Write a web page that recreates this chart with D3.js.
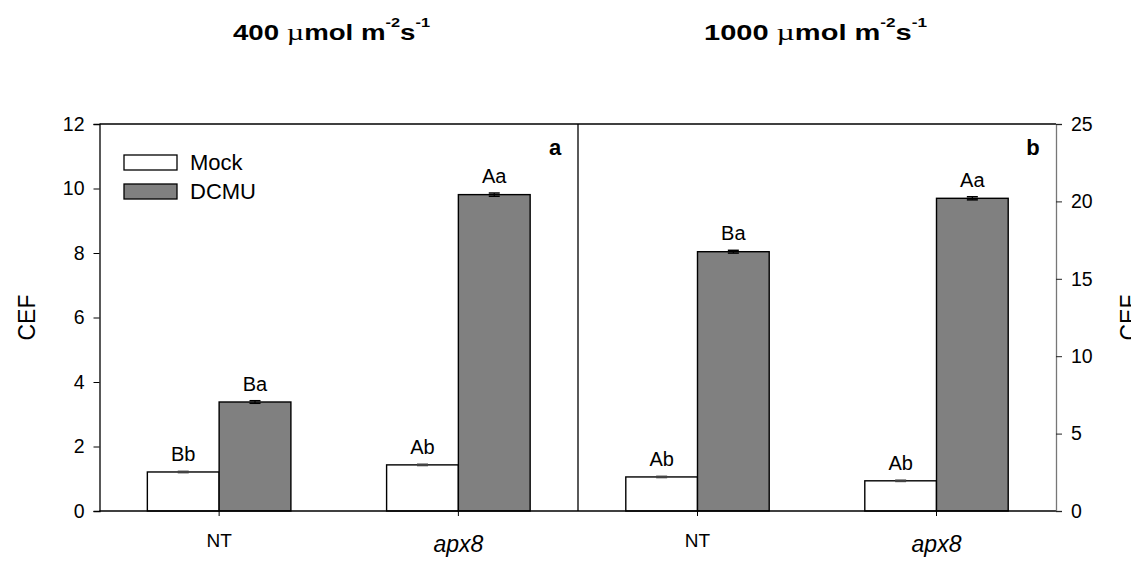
<!DOCTYPE html>
<html>
<head>
<meta charset="utf-8">
<script src="https://cdn.jsdelivr.net/npm/d3@7"></script>
<style>
  html, body { margin: 0; padding: 0; background: #fff; }
  svg { display: block; }
  text { font-family: Arial, "Liberation Sans", sans-serif; fill: #000; }
</style>
</head>
<body>
<svg id="chart" width="1131" height="575"></svg>
<script>
// Genotypes on the x axis and the two treatments within each group
const groups = ["NT", "apx8"];
const treatments = ["Mock", "DCMU"];

// CEF values at 400 µmol m-2 s-1 (panel a)
const mock400 = [1.21, 1.43];
const dcmu400 = [3.38, 9.81];
const mock400Err = [0.02, 0.02];
const dcmu400Err = [0.04, 0.05];
const mock400Letters = ["Bb", "Ab"];
const dcmu400Letters = ["Ba", "Aa"];

// CEF values at 1000 µmol m-2 s-1 (panel b)
const mock1000 = [2.2, 1.95];
const dcmu1000 = [16.75, 20.2];
const mock1000Err = [0.04, 0.04];
const dcmu1000Err = [0.09, 0.1];
const mock1000Letters = ["Ab", "Ab"];
const dcmu1000Letters = ["Ba", "Aa"];

// Axis ticks
const leftTicks = [0, 2, 4, 6, 8, 10, 12];
const rightTicks = [0, 5, 10, 15, 20, 25];

const svg = d3.select("#chart");
const font = 'Arial, "Liberation Sans", sans-serif';

const plotTop = 124, plotBottom = 511;
const xLeft = 99.5, xMid = 578, xRight = 1056;
const barFill = "#808080";

const yLeft = d3.scaleLinear().domain([0, 12]).range([plotBottom, plotTop]);
const yRight = d3.scaleLinear().domain([0, 25]).range([plotBottom, plotTop]);

const panels = [
  { x0: xLeft, x1: xMid, y: yLeft, mock: mock400, dcmu: dcmu400,
    mockErr: mock400Err, dcmuErr: dcmu400Err,
    mockLab: mock400Letters, dcmuLab: dcmu400Letters, tag: "a" },
  { x0: xMid, x1: xRight, y: yRight, mock: mock1000, dcmu: dcmu1000,
    mockErr: mock1000Err, dcmuErr: dcmu1000Err,
    mockLab: mock1000Letters, dcmuLab: dcmu1000Letters, tag: "b" }
];

panels.forEach(p => {
  const xg = d3.scaleBand().domain(groups).range([p.x0, p.x1])
    .paddingInner(0.4).paddingOuter(0.2);
  const xs = d3.scaleBand().domain(treatments).range([0, xg.bandwidth()]).padding(0);

  const rows = [];
  groups.forEach((g, i) => {
    rows.push({ g, t: "Mock", v: p.mock[i], e: p.mockErr[i], lab: p.mockLab[i] });
    rows.push({ g, t: "DCMU", v: p.dcmu[i], e: p.dcmuErr[i], lab: p.dcmuLab[i] });
  });

  const gBars = svg.append("g");
  gBars.selectAll("rect").data(rows).join("rect")
    .attr("x", d => xg(d.g) + xs(d.t))
    .attr("y", d => p.y(d.v))
    .attr("width", xs.bandwidth())
    .attr("height", d => p.y(0) - p.y(d.v))
    .attr("fill", d => d.t === "Mock" ? "#fff" : barFill)
    .attr("stroke", "#000")
    .attr("stroke-width", 1.4);

  // error bars
  const cx = d => xg(d.g) + xs(d.t) + xs.bandwidth() / 2;
  const gErr = svg.append("g");
  rows.forEach(d => {
    const c = cx(d);
    const col = d.t === "Mock" ? "#444" : "#000";
    gErr.append("line").attr("x1", c).attr("x2", c)
      .attr("y1", p.y(d.v - d.e)).attr("y2", p.y(d.v + d.e))
      .attr("stroke", col).attr("stroke-width", 1.2);
    [d.v - d.e, d.v + d.e].forEach(v => {
      gErr.append("line").attr("x1", c - 5.5).attr("x2", c + 5.5)
        .attr("y1", p.y(v)).attr("y2", p.y(v))
        .attr("stroke", col).attr("stroke-width", 1.5);
    });
  });

  // significance letters
  svg.append("g").selectAll("text").data(rows).join("text")
    .attr("x", cx)
    .attr("y", d => p.y(d.v + d.e) - 10)
    .attr("text-anchor", "middle")
    .attr("font-size", 20)
    .text(d => d.lab);

  // x axis ticks and labels
  const ax = d3.axisBottom(xg).tickSize(5);
  const gAx = svg.append("g").attr("transform", `translate(0,${plotBottom})`).call(ax);
  gAx.select(".domain").remove();
  gAx.selectAll(".tick line").attr("stroke", "#000").attr("stroke-width", 1);
  gAx.selectAll(".tick text")
    .attr("font-family", font)
    .attr("dy", null)
    .attr("y", d => d === "apx8" ? 40.5 : 35.7)
    .attr("font-size", d => d === "apx8" ? 23 : 19)
    .attr("font-style", d => d === "apx8" ? "italic" : "normal")
    .attr("fill", "#000");

  // panel tag
  svg.append("text")
    .attr("x", p.x1 - 23).attr("y", 155)
    .attr("text-anchor", "middle")
    .attr("font-size", 22).attr("font-weight", "bold")
    .text(p.tag);
});

// frame
const frame = svg.append("g").attr("fill", "none").attr("stroke", "#000").attr("stroke-width", 1.3);
frame.append("line").attr("x1", xLeft).attr("x2", xRight).attr("y1", plotTop).attr("y2", plotTop);
frame.append("line").attr("x1", xLeft).attr("x2", xRight).attr("y1", plotBottom).attr("y2", plotBottom);
frame.append("line").attr("x1", xMid).attr("x2", xMid).attr("y1", plotTop).attr("y2", plotBottom);

// left y axis
const axL = svg.append("g").attr("transform", `translate(${xLeft},0)`)
  .call(d3.axisLeft(yLeft).tickValues(leftTicks).tickSize(6).tickPadding(9).tickFormat(d3.format("d")));
axL.select(".domain").attr("stroke", "#000").attr("stroke-width", 1.3);
axL.selectAll(".tick line").attr("stroke", "#000");
axL.selectAll(".tick text").attr("font-family", font).attr("font-size", 19.5).attr("fill", "#000");

// right y axis
const axR = svg.append("g").attr("transform", `translate(${xRight},0)`)
  .call(d3.axisRight(yRight).tickValues(rightTicks).tickSize(6).tickPadding(9).tickFormat(d3.format("d")));
axR.select(".domain").attr("stroke", "#777").attr("stroke-width", 1.3);
axR.selectAll(".tick line").attr("stroke", "#222");
axR.selectAll(".tick text").attr("font-family", font).attr("font-size", 19.5).attr("fill", "#000");

// axis titles
svg.append("text").attr("transform", `translate(35,${(plotTop + plotBottom) / 2}) rotate(-90)`)
  .attr("text-anchor", "middle").attr("font-size", 23).text("CEF");
svg.append("text").attr("transform", `translate(1137,${(plotTop + plotBottom) / 2}) rotate(-90)`)
  .attr("text-anchor", "middle").attr("font-size", 23).text("CEF");

// legend
const legend = svg.append("g");
treatments.forEach((t, i) => {
  legend.append("rect")
    .attr("x", 124).attr("y", 155 + i * 29)
    .attr("width", 53).attr("height", 15)
    .attr("fill", t === "Mock" ? "#fff" : barFill)
    .attr("stroke", "#000").attr("stroke-width", 1.3);
  legend.append("text")
    .attr("x", 190).attr("y", 170 + i * 28.5)
    .attr("font-size", 22).text(t);
});

// panel titles: light intensity, stretched to a fixed width
function title(x, width, value) {
  const t = svg.append("text").attr("x", x).attr("y", 39.5)
    .attr("textLength", width).attr("lengthAdjust", "spacingAndGlyphs")
    .attr("font-size", 22).attr("font-weight", "bold");
  t.append("tspan").text(value + " ");
  t.append("tspan").attr("font-family", "'Liberation Serif', 'DejaVu Serif', serif")
    .attr("font-weight", "normal").attr("font-size", 24).text("µ");
  t.append("tspan").text("mol m");
  t.append("tspan").attr("font-size", 13).attr("dy", -13).text("-2");
  t.append("tspan").attr("dy", 13).text("s");
  t.append("tspan").attr("font-size", 13).attr("dy", -13).text("-1");
}
title(233, 197, "400");
title(704, 223, "1000");
</script>
</body>
</html>
